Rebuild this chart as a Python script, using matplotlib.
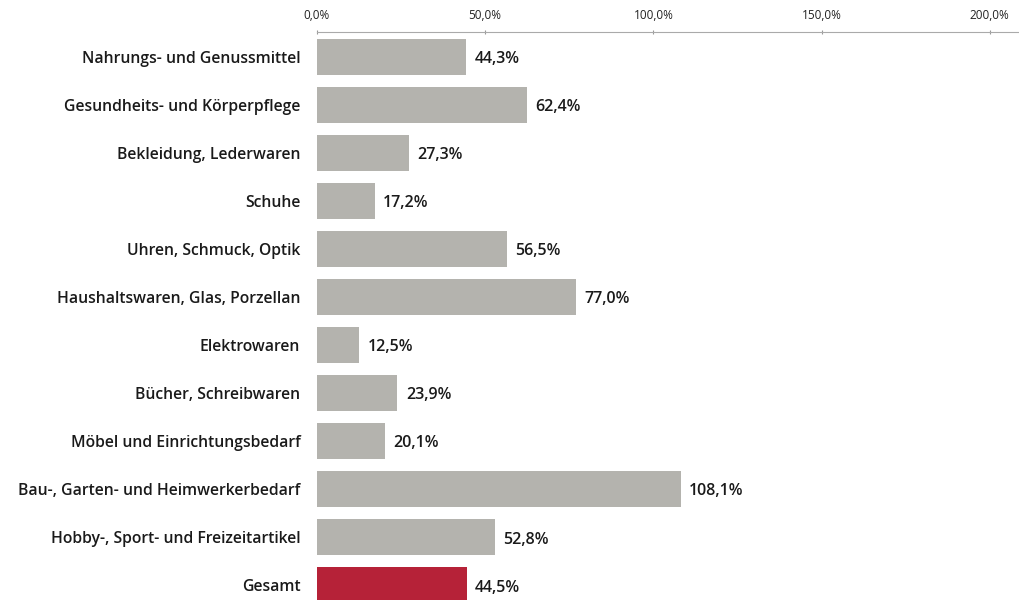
import matplotlib
matplotlib.use('Agg')
import matplotlib.pyplot as plt

# Kategorien und Anteile in Prozent
kategorien = [
    'Nahrungs- und Genussmittel',
    'Gesundheits- und Körperpflege',
    'Bekleidung, Lederwaren',
    'Schuhe',
    'Uhren, Schmuck, Optik',
    'Haushaltswaren, Glas, Porzellan',
    'Elektrowaren',
    'Bücher, Schreibwaren',
    'Möbel und Einrichtungsbedarf',
    'Bau-, Garten- und Heimwerkerbedarf',
    'Hobby-, Sport- und Freizeitartikel',
    'Gesamt',
]
werte = [44.3, 62.4, 27.3, 17.2, 56.5, 77.0, 12.5, 23.9, 20.1, 108.1, 52.8, 44.5]
ticks = [0, 50, 100, 150, 200]

GRAU = '#b4b3ae'
ROT = '#b62238'
TEXT = '#1a1a1a'

plt.rcParams['font.family'] = ['Open Sans', 'DejaVu Sans']

fig = plt.figure(figsize=(10.2, 6), dpi=100)
fig.patch.set_facecolor('white')
ax = fig.add_axes([317 / 1020, 0, 703 / 1020, 568 / 600])

farben = [GRAU] * (len(werte) - 1) + [ROT]
y = list(range(len(werte)))
ax.barh(y, werte, height=0.76, color=farben, edgecolor='none')

ax.set_xlim(0, 209)
ax.set_ylim(11.31, -0.52)

for yi, w in zip(y, werte):
    ax.text(w + 2.5, yi + 0.05, f'{w:.1f}'.replace('.', ',') + '%',
            ha='left', va='center', fontsize=11.5, fontweight='semibold', color=TEXT)

ax.set_yticks(y)
ax.set_yticklabels(kategorien, fontsize=11.3, fontweight='semibold', color=TEXT)
ax.tick_params(axis='y', length=0, pad=12)

ax.xaxis.tick_top()
ax.set_xticks(ticks)
ax.set_xticklabels([f'{t:.1f}'.replace('.', ',') + '%' for t in ticks],
                   fontsize=8.5, color='#222222')
ax.tick_params(axis='x', length=3, width=0.8, color='#999999', pad=6, direction='inout')

for s in ['right', 'bottom', 'left']:
    ax.spines[s].set_visible(False)
ax.spines['top'].set_color('#aaaaaa')
ax.spines['top'].set_linewidth(0.8)

fig.savefig('out.png', dpi=100, facecolor='white')
